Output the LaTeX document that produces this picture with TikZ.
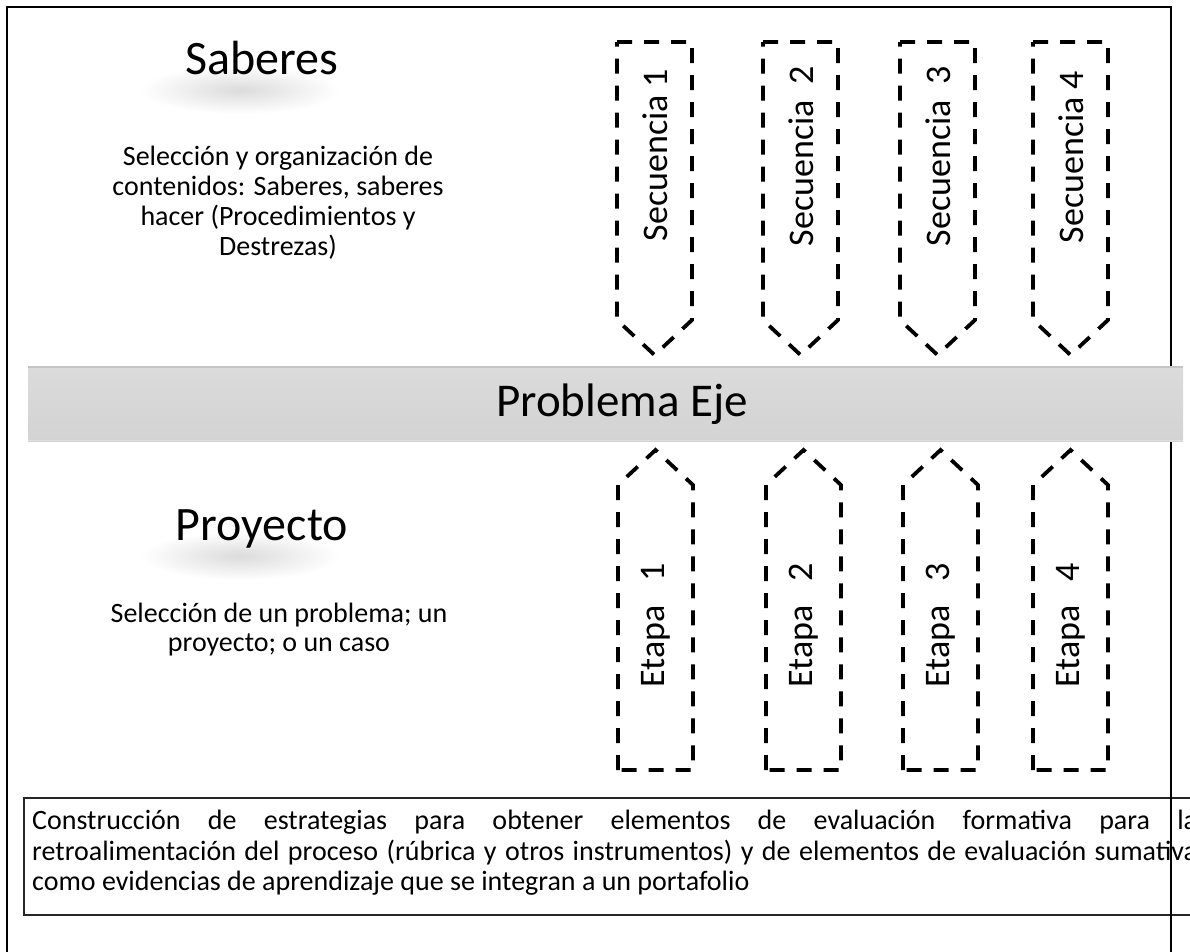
\documentclass[tikz,border=0pt]{standalone}
\usepackage{fontspec}
\setmainfont{Carlito}
\definecolor{bandtop}{HTML}{DBDBDB}
\definecolor{bandbot}{HTML}{D3D3D3}
\definecolor{bandline}{HTML}{C4C4C4}
\begin{document}
\begin{tikzpicture}[x=1pt,y=-1pt,
  dashedarrow/.style={draw=black, line width=3.8pt, dash pattern=on 15pt off 12pt, line join=miter},
  vlabel/.style={rotate=90, font=\fontsize{36}{40}\selectfont, inner sep=0pt},
  titletext/.style={font=\fontsize{48}{58}\selectfont, inner sep=0pt},
  bodytext/.style={font=\fontsize{28}{30}\selectfont, align=center, inner sep=0pt}]
\useasboundingbox (0,0) rectangle (1190,951);
\begin{scope}
\clip (0,0) rectangle (1190,951);
% title shadows
\shade[inner color=black!14, outer color=white] (240,90) ellipse (100 and 24);
\shade[inner color=black!14, outer color=white] (240,556) ellipse (100 and 24);
% titles
\node[titletext, anchor=base] (sab) at (262,74) {Saberes};
\node[titletext, anchor=base] (pro) at (262,540) {Proyecto};
% body texts
\node[bodytext, anchor=north] (sabtxt) at (278,146)
  {Selección y organización de\\contenidos: Saberes, saberes\\hacer (Procedimientos y\\Destrezas)};
\node[bodytext, anchor=north, font=\fontsize{28}{29}\selectfont] (protxt) at (279,603)
  {Selección de un problema; un\\proyecto; o un caso};
% Secuencia arrows (pointing down)
\draw[dashedarrow] (617,42) -- (692,42) -- (692,320) -- (654.5,355) -- (617,320) -- cycle;
\draw[dashedarrow] (763,42) -- (838,42) -- (838,320) -- (800.5,355) -- (763,320) -- cycle;
\draw[dashedarrow] (900,42) -- (975,42) -- (975,320) -- (937.5,355) -- (900,320) -- cycle;
\draw[dashedarrow] (1033,42) -- (1108,42) -- (1108,320) -- (1070.5,355) -- (1033,320) -- cycle;
\node[vlabel] (s1) at (655,155) {Secuencia 1};
\node[vlabel] (s2) at (801,156) {Secuencia\hspace{16pt}2};
\node[vlabel] (s3) at (938,156) {Secuencia\hspace{16pt}3};
\node[vlabel] (s4) at (1071,157) {Secuencia 4};
% Etapa arrows (pointing up)
\draw[dashedarrow] (618,770) -- (618,485) -- (655.5,450) -- (693,485) -- (693,770) -- cycle;
\draw[dashedarrow] (766,770) -- (766,485) -- (803.5,450) -- (841,485) -- (841,770) -- cycle;
\draw[dashedarrow] (903,770) -- (903,485) -- (940.5,450) -- (978,485) -- (978,770) -- cycle;
\draw[dashedarrow] (1033,770) -- (1033,485) -- (1070.5,450) -- (1108,485) -- (1108,770) -- cycle;
\node[vlabel] (e1) at (656,625) {Etapa\hspace{24pt}1};
\node[vlabel] (e2) at (804,625) {Etapa\hspace{24pt}2};
\node[vlabel] (e3) at (941,625) {Etapa\hspace{24pt}3};
\node[vlabel] (e4) at (1071,625) {Etapa\hspace{24pt}4};
% bottom box
\draw[line width=1.3pt, black!85] (24,798) rectangle (1215,915);
\node[anchor=north west, text width=1165pt, inner sep=0pt, align=justify,
      font=\fontsize{28}{30.5}\selectfont] (evaltxt) at (32,810)
  {Construcción de estrategias para obtener elementos de evaluación formativa para la\linebreak
   retroalimentación del proceso (rúbrica y otros instrumentos) y de elementos de evaluación sumativa\linebreak
   como evidencias de aprendizaje que se integran a un portafolio};
% outer frame
\draw[line width=2.5pt] (7,970) -- (7,7) -- (1171,7) -- (1171,970);
% band
\shade[top color=bandtop, bottom color=bandbot] (28,366) rectangle (1183,441);
\draw[bandline, line width=1.5pt] (28,367) -- (1183,367);
\draw[black!12, line width=1pt] (28,440) -- (1183,440);
\node[font=\fontsize{47}{56}\selectfont, inner sep=0pt] (pe) at (622,404) {Problema Eje};
\end{scope}
\end{tikzpicture}
\end{document}
